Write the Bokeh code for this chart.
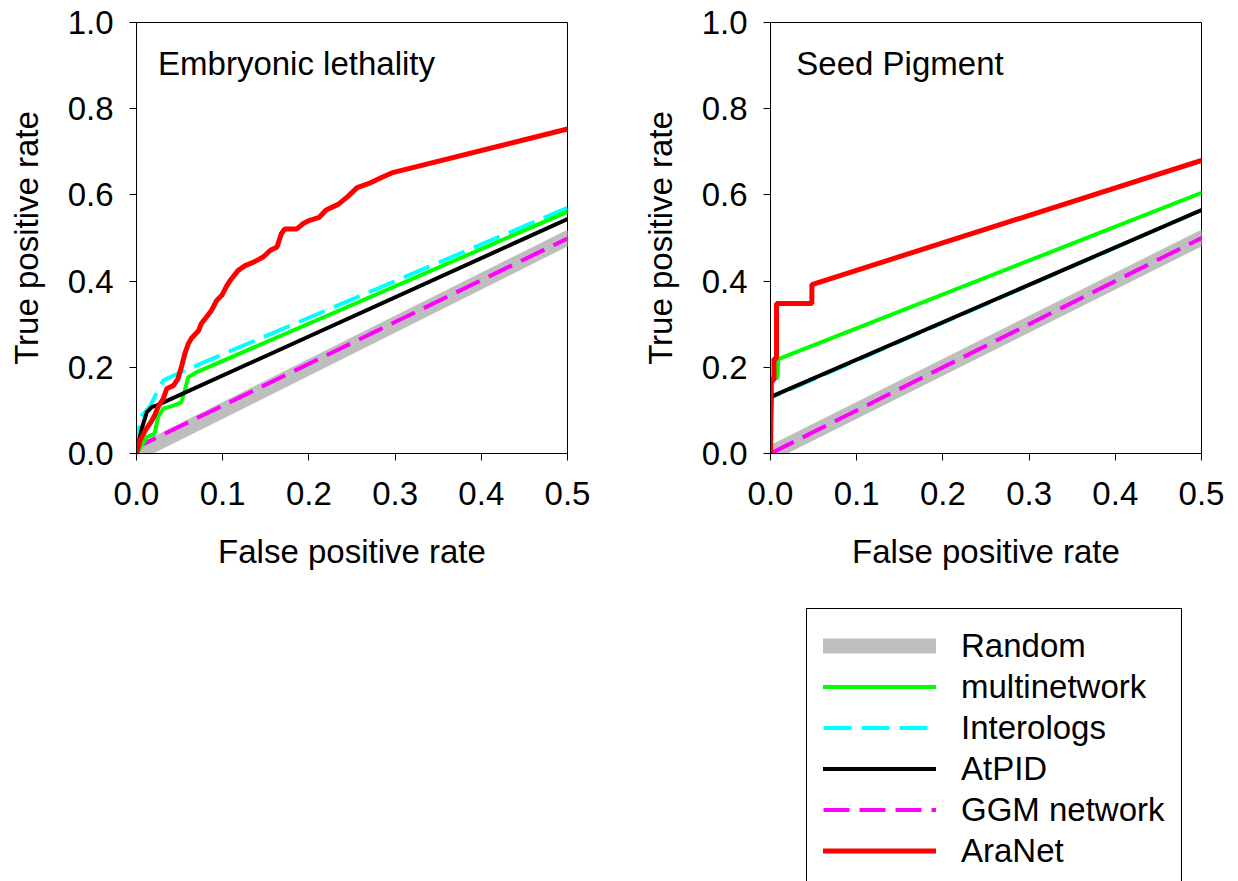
from bokeh.plotting import figure
from bokeh.models import (Range1d, FixedTicker, NumeralTickFormatter, Label, Legend,
                          LegendItem, Spacer)
from bokeh.layouts import row, column
from bokeh.embed import file_html
from bokeh.resources import INLINE

FONT = "Liberation Sans"
FS = "33px"

# ---------------- data: Embryonic lethality ----------------
emb_random_x = [0.0, 0.5]
emb_random_y = [0.0, 0.5]
emb_ggm_x = [0.0, 0.004, 0.5]
emb_ggm_y = [0.0, 0.018, 0.499]
emb_inter_x = [0.0, 0.0, 0.004, 0.010, 0.016, 0.021, 0.031, 0.043, 0.060, 0.5]
emb_inter_y = [0.0, 0.015, 0.084, 0.096, 0.111, 0.131, 0.169, 0.181, 0.196, 0.570]
emb_multi_x = [0.0, 0.012, 0.021, 0.025, 0.031, 0.043, 0.052, 0.056, 0.060, 0.070, 0.5]
emb_multi_y = [0.0, 0.038, 0.046, 0.084, 0.104, 0.111, 0.119, 0.146, 0.177, 0.189, 0.561]
emb_atpid_x = [0.0, 0.006, 0.012, 0.018, 0.023, 0.5]
emb_atpid_y = [0.0, 0.057, 0.096, 0.108, 0.111, 0.544]
emb_aranet_x = [0.0, 0.004, 0.010, 0.018, 0.021, 0.025, 0.031, 0.035, 0.043, 0.048,
                0.052, 0.056, 0.060, 0.064, 0.072, 0.075, 0.081, 0.087, 0.093, 0.099,
                0.105, 0.110, 0.118, 0.126, 0.136, 0.147, 0.155, 0.163, 0.168, 0.172,
                0.186, 0.193, 0.201, 0.212, 0.220, 0.234, 0.245, 0.256, 0.269, 0.283,
                0.296, 0.5]
emb_aranet_y = [0.0, 0.030, 0.053, 0.077, 0.088, 0.108, 0.127, 0.150, 0.158, 0.173,
                0.200, 0.231, 0.254, 0.268, 0.285, 0.301, 0.316, 0.332, 0.355, 0.367,
                0.390, 0.405, 0.425, 0.436, 0.444, 0.456, 0.471, 0.479, 0.510, 0.521,
                0.521, 0.533, 0.541, 0.548, 0.565, 0.578, 0.596, 0.617, 0.626, 0.639,
                0.651, 0.753]

# ---------------- data: Seed Pigment ----------------
seed_random_x = [0.0, 0.5]
seed_random_y = [0.0, 0.5]
seed_ggm_x = [0.0, 0.5]
seed_ggm_y = [0.0, 0.5]
seed_inter_x = [0.0, 0.001, 0.5]
seed_inter_y = [0.0, 0.130, 0.565]
seed_multi_x = [0.0, 0.001, 0.008, 0.009, 0.5]
seed_multi_y = [0.0, 0.175, 0.175, 0.219, 0.605]
seed_atpid_x = [0.0, 0.001, 0.5]
seed_atpid_y = [0.0, 0.132, 0.565]
seed_aranet_x = [0.0, 0.001, 0.004, 0.004, 0.007, 0.007, 0.048, 0.048, 0.5]
seed_aranet_y = [0.0, 0.170, 0.170, 0.220, 0.220, 0.348, 0.348, 0.392, 0.680]

x_ticks = [0.0, 0.1, 0.2, 0.3, 0.4, 0.5]
y_ticks = [0.0, 0.2, 0.4, 0.6, 0.8, 1.0]

series_names = ["Random", "multinetwork", "Interologs", "AtPID", "GGM network", "AraNet"]
styles = {
    "Random": dict(line_color="#bebebe", line_width=15, line_cap="round", line_dash="solid"),
    "multinetwork": dict(line_color="#00ff00", line_width=4, line_cap="round", line_dash="solid"),
    "Interologs": dict(line_color="#00ffff", line_width=4, line_cap="butt", line_dash="28 10"),
    "AtPID": dict(line_color="#000000", line_width=4, line_cap="round", line_dash="solid"),
    "GGM network": dict(line_color="#ff00ff", line_width=4, line_cap="butt", line_dash="26 10"),
    "AraNet": dict(line_color="#ff0000", line_width=5, line_cap="round", line_dash="solid"),
}


def make_panel(title, title_x, data, border_left, border_right):
    p = figure(frame_width=431, frame_height=431,
               min_border_left=border_left, min_border_right=border_right,
               min_border_top=22, min_border_bottom=127,
               x_range=Range1d(0, 0.5), y_range=Range1d(0, 1.0),
               output_backend="svg", toolbar_location=None)
    p.grid.visible = False
    p.outline_line_color = "black"
    p.outline_line_width = 1
    p.xaxis.ticker = FixedTicker(ticks=x_ticks)
    p.yaxis.ticker = FixedTicker(ticks=y_ticks)
    for ax in (p.xaxis[0], p.yaxis[0]):
        ax.formatter = NumeralTickFormatter(format="0.0")
        ax.major_tick_in = 0
        ax.major_tick_out = 7
        ax.minor_tick_line_color = None
        ax.axis_line_color = "black"
        ax.major_tick_line_color = "black"
        ax.major_label_text_font = FONT
        ax.major_label_text_font_size = FS
        ax.major_label_text_color = "black"
        ax.axis_label_text_font = FONT
        ax.axis_label_text_font_size = FS
        ax.axis_label_text_font_style = "normal"
        ax.axis_label_text_color = "black"
    p.xaxis.major_label_standoff = 21
    p.xaxis.axis_label_standoff = 25
    p.yaxis.major_label_standoff = 16
    p.yaxis.axis_label_standoff = 20
    p.xaxis.axis_label = "False positive rate"
    p.yaxis.axis_label = "True positive rate"
    order = ["Random", "GGM network", "Interologs", "multinetwork", "AtPID", "AraNet"]
    for name in order:
        xs, ys = data[name]
        p.line(xs, ys, **styles[name])
    p.add_layout(Label(x=title_x, y=0.905, text=title, text_font=FONT,
                       text_font_size=FS, text_baseline="middle", text_color="black"))
    return p


p1 = make_panel("Embryonic lethality", 0.025, {
    "Random": (emb_random_x, emb_random_y),
    "GGM network": (emb_ggm_x, emb_ggm_y),
    "Interologs": (emb_inter_x, emb_inter_y),
    "multinetwork": (emb_multi_x, emb_multi_y),
    "AtPID": (emb_atpid_x, emb_atpid_y),
    "AraNet": (emb_aranet_x, emb_aranet_y),
}, 136, 33)

p2 = make_panel("Seed Pigment", 0.030, {
    "Random": (seed_random_x, seed_random_y),
    "GGM network": (seed_ggm_x, seed_ggm_y),
    "Interologs": (seed_inter_x, seed_inter_y),
    "multinetwork": (seed_multi_x, seed_multi_y),
    "AtPID": (seed_atpid_x, seed_atpid_y),
    "AraNet": (seed_aranet_x, seed_aranet_y),
}, 170, 37)

# legend panel: legend renderers carry the series data but lie outside the visible range
p3 = figure(width=432, height=273, min_border=0,
            x_range=Range1d(10, 11), y_range=Range1d(10, 11),
            x_axis_location=None, y_axis_location=None,
            output_backend="svg", toolbar_location=None)
p3.grid.visible = False
p3.outline_line_color = None
legend_data = {
    "Random": (emb_random_x, emb_random_y),
    "multinetwork": (emb_multi_x, emb_multi_y),
    "Interologs": (emb_inter_x, emb_inter_y),
    "AtPID": (emb_atpid_x, emb_atpid_y),
    "GGM network": (emb_ggm_x, emb_ggm_y),
    "AraNet": (emb_aranet_x, emb_aranet_y),
}
items = []
for name in series_names:
    xs, ys = legend_data[name]
    r = p3.line(xs, ys, **styles[name])
    items.append(LegendItem(label=name, renderers=[r]))
legend = Legend(items=items, location="top_left", margin=0, padding=16, spacing=0,
                label_height=41, glyph_height=41, glyph_width=113, label_standoff=25,
                label_text_font=FONT, label_text_font_size=FS, label_text_color="black",
                border_line_color="black", border_line_width=1, border_line_alpha=1.0,
                background_fill_color="white", background_fill_alpha=1.0)
p3.add_layout(legend)

layout = column(row(p1, p2),
                row(Spacer(width=806, height=301),
                    column(Spacer(width=432, height=28), p3)))

open("out.html", "w").write(file_html(layout, INLINE))
